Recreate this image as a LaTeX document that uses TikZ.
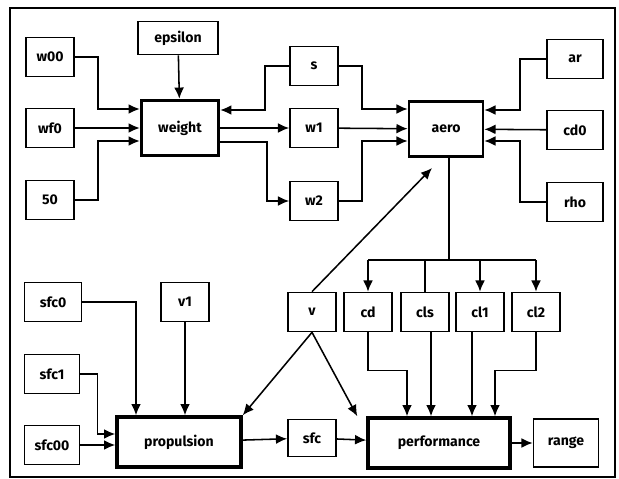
\documentclass[tikz,border=0pt]{standalone}
\usepackage{fontspec}
\setmainfont{Fira Sans}
\usepackage{tikz}
\usetikzlibrary{arrows.meta}
\usetikzlibrary{calc}

\tikzset{
  blk/.style={draw, line width=1.2pt, minimum width=1.2cm, minimum height=0.975cm,
    inner sep=1pt, font=\fontsize{10}{12}\selectfont\bfseries},
  mainblk/.style={blk, line width=2.4pt},
  link/.style={line width=1.1pt, -{Latex[length=8pt,width=7pt]}},
  wire/.style={line width=1.1pt},
}

\begin{document}
\begin{tikzpicture}[x=0.025cm, y=-0.025cm]
\useasboundingbox (0,0) rectangle (619,479);
\draw[line width=1pt] (10,8) rectangle (615,477);

% weight and aero part
\node[blk] (w00) at (50,57) {w00};
\node[blk] (wf0) at (50,128) {wf0};
\node[blk] (s0) at (50,200) {50};
\node[blk, minimum width=2cm, minimum height=0.825cm] (epsilon) at (178,38) {epsilon};
\node[mainblk, minimum width=1.925cm, minimum height=1.375cm] (weight) at (180,128) {weight};
\node[blk] (s) at (314,66) {s};
\node[blk] (w1) at (314,128) {w1};
\node[blk] (w2) at (314,201) {w2};
\node[blk, line width=1.8pt, minimum width=1.85cm, minimum height=1.375cm] (aero) at (446,129) {aero};
\node[blk, minimum width=1.4cm] (ar) at (575,59) {ar};
\node[blk, minimum width=1.4cm] (cd0) at (575,130) {cd0};
\node[blk, minimum width=1.4cm] (rho) at (575,202) {rho};

% propulsion and performance part
\node[blk, minimum width=1.425cm] (sfc0) at (53,302) {sfc0};
\node[blk] (v1) at (185,302) {v1};
\node[blk, minimum width=1.375cm] (sfc1) at (52,374) {sfc1};
\node[blk, minimum width=1.375cm] (sfc00) at (52,445) {sfc00};
\node[mainblk, minimum width=3.1cm, minimum height=1.25cm] (prop) at (179,442) {propulsion};
\node[blk] (v) at (312,312) {v};
\node[blk, minimum height=0.925cm] (sfc) at (312,438) {sfc};
\node[blk] (cd) at (368,312) {cd};
\node[blk] (cls) at (425,312) {cls};
\node[blk] (cl1) at (480,312) {cl1};
\node[blk] (cl2) at (536,312) {cl2};
\node[mainblk, minimum width=3.55cm, minimum height=1.25cm] (perf) at (439,443) {performance};
\node[blk, minimum width=1.625cm, minimum height=1.2cm] (range) at (566,443) {range};

% into weight
\draw[link] (w00.east) -- ++(23,0) |- ($(weight.west)+(0,-19)$);
\draw[link] (wf0) -- (weight);
\draw[link] (s0.east) -- ++(23,0) |- ($(weight.west)+(0,13)$);
\draw[link] (epsilon) -- (weight);
\draw[link] (s.west) -- ++(-24,0) |- ($(weight.east)+(0,-18)$);

% out of weight
\draw[link] (weight) -- (w1);
\draw[link] ($(weight.east)+(0,14)$) -- ++(47,0) |- (w2.west);

% into aero
\draw[link] (s.east) -- ++(23,0) |- ($(aero.west)+(0,-20)$);
\draw[link] (w1) -- (aero);
\draw[link] (w2.east) -- ++(23,0) |- ($(aero.west)+(0,12)$);
\draw[link] (ar.west) -- ++(-26,0) |- ($(aero.east)+(0,-19)$);
\draw[link] (cd0) -- (aero);
\draw[link] (rho.west) -- ++(-26,0) |- ($(aero.east)+(0,12)$);
\coordinate (aerohit) at (432,168);
\draw[link] (v.north) -- (aerohit);

% aero to the coefficients
\coordinate (bus) at (449,260);
\draw[wire] (aero.south -| bus) -- (bus);
\draw[wire] (cd.north |- bus) -- (cl2.north |- bus);
\draw[link] (cd.north |- bus) -- (cd);
\draw[wire] (cls.north |- bus) -- (cls);
\draw[link] (cl1.north |- bus) -- (cl1);
\draw[link] (cl2.north |- bus) -- (cl2);

% into propulsion
\draw[link] (sfc0.east) -| ($(prop.north)+(-43,0)$);
\draw[link] (v1.south) -- (v1.south |- prop.north);
\draw[link] (sfc1.east) -- ++(17,0) |- ($(prop.west)+(0,-8)$);
\draw[link] (sfc00.east) -- (sfc00.east -| prop.west);
\draw[link] (v.south) -- (prop.north east);
\draw[link] (prop) -- (sfc);

% into performance
\coordinate (clsout) at ($(cls.south)+(6,0)$);
\coordinate (cl1out) at ($(cl1.south)+(-8,0)$);
\draw[link] (v.south) -- ($(perf.north west)+(-9,0)$);
\draw[link] (cd.south) -- ++(0,38) -| ($(perf.north)+(-32,0)$);
\draw[link] (clsout) -- (clsout |- perf.north);
\draw[link] (cl1out) -- (cl1out |- perf.north);
\draw[link] (cl2.south) -- ++(0,38) -| ($(perf.north)+(56,0)$);
\draw[link] (sfc) -- (perf);
\draw[link] (perf) -- (range);
\end{tikzpicture}
\end{document}
